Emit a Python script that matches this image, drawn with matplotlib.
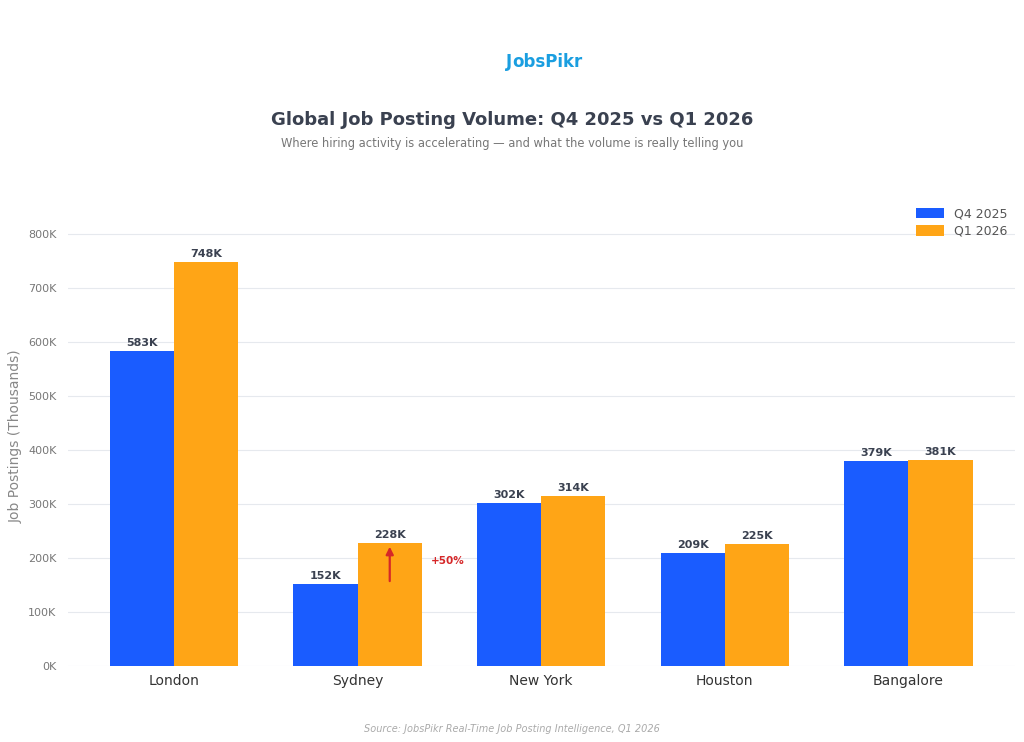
import matplotlib.pyplot as plt
import numpy as np

# Data (thousands of postings)
cities = ["London", "Sydney", "New York", "Houston", "Bangalore"]
q4_2025 = [583, 152, 302, 209, 379]
q1_2026 = [748, 228, 314, 225, 381]
yticks = [0, 100, 200, 300, 400, 500, 600, 700, 800]

blue = "#1a5cff"
orange = "#ffa516"
dark = "#3a4150"

fig = plt.figure(figsize=(10.24, 7.42), dpi=100)
ax = fig.add_axes([0.066, 0.1024, 0.925, 0.619])

x = np.arange(len(cities))
w = 0.35
b1 = ax.bar(x - w / 2, q4_2025, w, color=blue, label="Q4 2025", zorder=2)
b2 = ax.bar(x + w / 2, q1_2026, w, color=orange, label="Q1 2026", zorder=2)

# value labels
for bars, vals in [(b1, q4_2025), (b2, q1_2026)]:
    for bar, v in zip(bars, vals):
        ax.text(bar.get_x() + bar.get_width() / 2, v + 6, f"{v}K",
                ha="center", va="bottom", fontsize=8, fontweight="bold", color=dark)

# Sydney growth arrow
i = cities.index("Sydney")
ax.annotate("", xy=(x[i] + w / 2, q1_2026[i] - 2), xytext=(x[i] + w / 2, q4_2025[i]),
            arrowprops=dict(arrowstyle="-|>", color="#d62728", lw=1.6, mutation_scale=11),
            zorder=3)
pct = (q1_2026[i] - q4_2025[i]) / q4_2025[i] * 100
ax.text(x[i] + 0.49, (q1_2026[i] + q4_2025[i]) / 2 + 5, f"+{pct:.0f}%",
        ha="center", va="center", fontsize=7.5, fontweight="bold", color="#d62728")

ax.set_xlim(-0.58, len(cities) - 1 + 0.58)
ax.set_ylim(0, 850)
ax.set_yticks(yticks)
ax.set_yticklabels([f"{t}K" for t in yticks])
ax.set_xticks(x)
ax.set_xticklabels(cities)
ax.tick_params(axis="y", labelsize=8, labelcolor="#777777", length=0, pad=8)
ax.tick_params(axis="x", labelsize=10, labelcolor="#333333", length=0, pad=6)
ax.grid(axis="y", color="#e6e9ee", lw=0.8, zorder=0)
for s in ax.spines.values():
    s.set_visible(False)
ax.set_ylabel("Job Postings (Thousands)", fontsize=10, color="#888888", labelpad=4)

ax.legend(loc="upper right", bbox_to_anchor=(1.0, 1.015), frameon=False, fontsize=9,
          labelcolor="#555555", handlelength=2.2, handleheight=0.9, borderaxespad=0.2,
          labelspacing=0.35)

# header / footer
fig.text(0.5, 0.917, "J", color="#1a9ee0", fontsize=12, fontweight="bold", ha="right", va="center")
fig.text(0.5, 0.917, "obsPikr", color="#1a9ee0", fontsize=12, fontweight="bold", ha="left", va="center")
fig.text(0.5, 0.838, "Global Job Posting Volume: Q4 2025 vs Q1 2026",
         ha="center", va="center", fontsize=13, fontweight="bold", color=dark)
fig.text(0.5, 0.807, "Where hiring activity is accelerating \u2014 and what the volume is really telling you",
         ha="center", va="center", fontsize=8.3, color="#777777")
fig.text(0.5, 0.017, "Source: JobsPikr Real-Time Job Posting Intelligence, Q1 2026",
         ha="center", va="center", fontsize=7, style="italic", color="#aaaaaa")

fig.savefig("out.png", dpi=100, facecolor="white")
